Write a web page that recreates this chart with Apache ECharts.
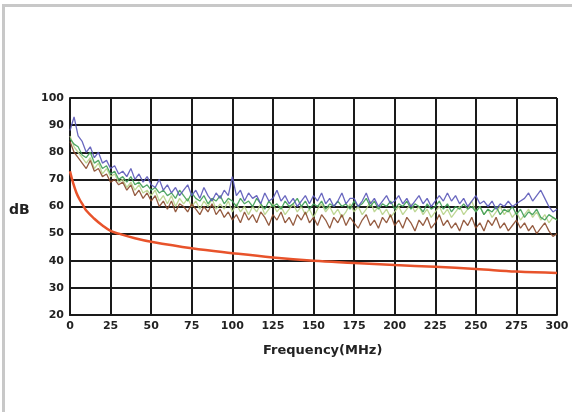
<!DOCTYPE html>
<html>
<head>
<meta charset="utf-8">
<script src="https://cdn.jsdelivr.net/npm/echarts@6/dist/echarts.min.js"></script>
<style>
html,body{margin:0;padding:0;background:#fff;}
#chart{width:572px;height:412px;}
</style>
</head>
<body>
<div id="chart"></div>
<script>
// Sample frequencies (MHz) for the measured traces: every 2.5 MHz from 0 to 300
var freq = [];
for (var i = 0; i <= 120; i++) freq.push(i * 2.5);

var xTicks = [0, 25, 50, 75, 100, 125, 150, 175, 200, 225, 250, 275, 300];
var yTicks = [20, 30, 40, 50, 60, 70, 80, 90, 100];

var blueTrace = [
  88, 93, 86, 84, 80, 82, 78, 80, 76, 77,
  74, 75, 72, 73, 71, 74, 70, 72, 69, 71,
  68, 67, 70, 66, 68, 65, 67, 64, 66, 68,
  64, 66, 63, 67, 64, 62, 65, 63, 66, 64,
  71, 64, 66, 62, 65, 63, 64, 61, 65, 62,
  63, 66, 62, 64, 61, 63, 60, 62, 64, 61,
  64, 62, 65, 61, 63, 60, 62, 65, 61, 63,
  63, 60, 62, 65, 61, 63, 60, 62, 64, 61,
  62, 64, 61, 63, 60, 62, 64, 61, 63, 60,
  62, 64, 62, 65, 62, 64, 61, 63, 60, 62,
  64, 61, 62, 60, 62, 59, 61, 60, 62, 60,
  61, 62, 63, 65, 62, 64, 66, 63, 60, 58,
  59
];
var greenTrace = [
  85, 83, 82, 79, 78, 80, 76, 77, 74, 75,
  72, 73, 70, 71, 69, 71, 68, 69, 67, 68,
  66, 67, 65, 66, 64, 65, 63, 66, 64, 62,
  65, 63, 62, 64, 61, 63, 62, 64, 61, 63,
  62, 60, 63, 61, 62, 60, 63, 61, 59, 62,
  60, 61, 59, 62, 60, 61, 63, 60, 62, 59,
  61, 60, 62, 59, 61, 60, 62, 60, 61, 59,
  62, 60, 61, 63, 60, 62, 59, 61, 60, 62,
  59, 61, 60, 62, 59, 61, 60, 58, 61, 59,
  60, 62, 59, 61, 58, 60, 59, 61, 59, 60,
  58, 60, 57, 59, 58, 60, 57, 59, 58, 60,
  57, 59, 56, 58, 57, 59, 56, 55, 57, 56,
  55
];
var brownTrace = [
  84, 80, 78, 76, 74, 77, 73, 74, 71, 72,
  69, 70, 68, 69, 66, 68, 64, 66, 63, 65,
  62, 64, 60, 62, 59, 62, 58, 61, 60, 58,
  61, 59, 57, 60, 58, 61, 57, 59, 56, 58,
  55, 57, 54, 58, 55, 57, 54, 58, 56, 53,
  57, 55, 58, 54, 56, 53, 57, 55, 58, 54,
  56, 53, 57, 55, 52, 56, 54, 57, 53, 56,
  54, 52, 55, 57, 53, 55, 52, 56, 54, 57,
  53, 55, 52, 56, 54, 51, 55, 53, 56, 52,
  54, 57, 53, 55, 52, 54, 51, 55, 53, 56,
  52, 54, 51, 55, 53, 56, 52, 54, 51, 53,
  55, 52, 54, 51, 53, 50, 52, 54, 51, 49,
  50
];
var lightTrace = [
  86, 82, 80, 78, 76, 78, 74, 76, 72, 74,
  71, 72, 69, 70, 67, 69, 66, 68, 65, 66,
  64, 66, 62, 64, 61, 64, 60, 63, 61, 63,
  60, 62, 59, 62, 60, 63, 59, 61, 59, 62,
  58, 61, 58, 60, 57, 60, 58, 61, 57, 59,
  61, 58, 60, 57, 59, 61, 58, 60, 57, 59,
  56, 59, 61, 58, 60, 57, 59, 56, 58, 61,
  58, 60, 57, 59, 62, 58, 60, 57, 59, 56,
  58, 60, 57, 59, 61, 58, 60, 57, 59, 56,
  58, 60, 57, 59, 56, 58, 60, 57, 59, 62,
  58, 60, 57, 59, 56, 58, 60, 57, 59, 56,
  58, 55, 57, 59, 56, 58, 55, 57, 54, 56,
  55
];

var limitFreq = [0, 2, 4, 6, 8, 10, 15, 20, 25, 30, 40, 50, 75, 100, 125, 150, 175, 200, 225, 250, 275, 300];
var limitVals = [73, 68.5, 65, 62.5, 60.5, 58.5, 55.5, 53, 51, 50, 48.3, 47, 44.6, 42.8, 41.2, 40, 39.2, 38.4, 37.8, 37, 36, 35.5];

function pairs(xs, ys) {
  return ys.map(function (v, i) { return [xs[i], v]; });
}

var chart = echarts.init(document.getElementById('chart'), null, { renderer: 'canvas' });
var fontFam = '"DejaVu Sans", sans-serif';
function trace(name, data, color) {
  return {
    name: name, type: 'line', data: pairs(freq, data), symbol: 'none',
    lineStyle: { color: color, width: 1.3, opacity: 0.9 }, z: 3
  };
}
chart.setOption({
  backgroundColor: '#ffffff',
  animation: false,
  grid: { left: 70, right: 15, top: 98, bottom: 97 },
  xAxis: {
    type: 'value', min: 0, max: 300, interval: 25,
    axisLine: { show: true, lineStyle: { color: '#1a1a1a', width: 2 } },
    axisTick: { show: false },
    splitLine: { show: true, lineStyle: { color: '#1a1a1a', width: 2 } },
    axisLabel: {
      color: '#222', fontFamily: fontFam, fontWeight: 'bold', fontSize: 11, margin: 6,
      formatter: function (v) { return xTicks.indexOf(v) >= 0 ? String(v) : ''; }
    }
  },
  yAxis: {
    type: 'value', min: 20, max: 100, interval: 10,
    axisLine: { show: true, lineStyle: { color: '#1a1a1a', width: 2 } },
    axisTick: { show: false },
    splitLine: { show: true, lineStyle: { color: '#1a1a1a', width: 2 } },
    axisLabel: {
      color: '#222', fontFamily: fontFam, fontWeight: 'bold', fontSize: 11, margin: 6,
      formatter: function (v) { return yTicks.indexOf(v) >= 0 ? String(v) : ''; }
    }
  },
  graphic: [
    { type: 'rect', shape: { x: 2, y: 4, width: 570, height: 3 }, style: { fill: '#c8c8c8' } },
    { type: 'rect', shape: { x: 2, y: 4, width: 3, height: 408 }, style: { fill: '#c8c8c8' } },
    { type: 'text', left: 263, top: 344, style: { text: 'Frequency(MHz)', fill: '#222', font: 'bold 13px "DejaVu Sans", sans-serif' } },
    { type: 'text', left: 9, top: 203, style: { text: 'dB', fill: '#222', font: 'bold 14px "DejaVu Sans", sans-serif' } }
  ],
  series: [
    trace('light', lightTrace, '#b7d38a'),
    trace('green', greenTrace, '#3f9d55'),
    trace('brown', brownTrace, '#8a4a2c'),
    trace('blue', blueTrace, '#5a58b8'),
    {
      name: 'limit', type: 'line', data: pairs(limitFreq, limitVals), symbol: 'none', smooth: 0.4,
      lineStyle: { color: '#e8532b', width: 2.5 }, z: 4
    }
  ]
});
</script>
</body>
</html>
